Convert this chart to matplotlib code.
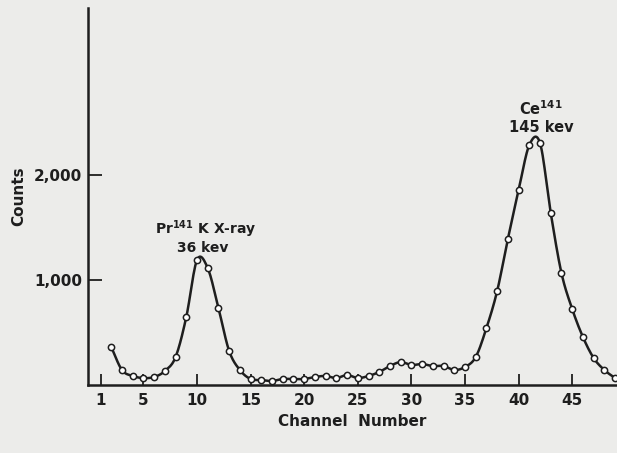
import numpy as np
import matplotlib
matplotlib.use("Agg")
import matplotlib.pyplot as plt

# channel readings
channels = list(range(2, 50))
counts = [354, 134, 77, 57, 67, 124, 258, 641, 1187, 1110,
          727, 316, 134, 48, 38, 29, 48, 48, 48, 67,
          77, 57, 86, 57, 77, 115, 172, 210, 182, 191,
          172, 172, 134, 163, 258, 536, 890, 1388, 1856, 2287,
          2306, 1636, 1062, 718, 450, 249, 134, 57]

xticks = [1, 5, 10, 15, 20, 25, 30, 35, 40, 45]
yticks = [1000, 2000]
ytick_labels = ['1,000', '2,000']

plt.rcParams['font.family'] = 'DejaVu Sans'
plt.rcParams['mathtext.fontset'] = 'custom'
plt.rcParams['mathtext.rm'] = 'DejaVu Sans:bold'
plt.rcParams['mathtext.default'] = 'rm'

bg = '#ececea'
ink = '#1e1e1e'


def smooth(x, y, n=12):
    # catmull-rom curve through the points, only for drawing the line
    x = np.asarray(x, float)
    y = np.asarray(y, float)
    px = np.concatenate([[2 * x[0] - x[1]], x, [2 * x[-1] - x[-2]]])
    py = np.concatenate([[2 * y[0] - y[1]], y, [2 * y[-1] - y[-2]]])
    t = np.linspace(0, 1, n, endpoint=False)
    xs, ys = [], []
    for i in range(1, len(px) - 2):
        for arr, out in ((px, xs), (py, ys)):
            p0, p1, p2, p3 = arr[i - 1], arr[i], arr[i + 1], arr[i + 2]
            out.extend(0.5 * (2 * p1 + (-p0 + p2) * t
                              + (2 * p0 - 5 * p1 + 4 * p2 - p3) * t ** 2
                              + (-p0 + 3 * p1 - 3 * p2 + p3) * t ** 3))
    xs.append(x[-1])
    ys.append(y[-1])
    return np.array(xs), np.array(ys)


fig = plt.figure(figsize=(6.17, 4.53), dpi=100, facecolor=bg)
ax = fig.add_axes([0.1426, 0.150, 0.8574, 0.832])
ax.set_facecolor(bg)

sx, sy = smooth(channels, counts)
ax.plot(sx, sy, color=ink, lw=1.8, zorder=2)
ax.plot(channels, counts, 'o', ms=4.5, mfc='white', mec=ink, mew=1.1, zorder=3)

ax.set_xlim(-0.17, 49.18)
ax.set_ylim(-10, 3598)

ax.spines['top'].set_visible(False)
ax.spines['right'].set_visible(False)
for s in ('left', 'bottom'):
    ax.spines[s].set_color(ink)
    ax.spines[s].set_linewidth(1.8)

ax.set_xticks(xticks)
ax.set_xticklabels([str(v) for v in xticks], fontsize=11, fontweight='bold', color=ink)
ax.set_yticks(yticks)
ax.set_yticklabels(ytick_labels, fontsize=11, fontweight='bold', color=ink)
ax.tick_params(axis='x', direction='in', length=8, width=1.3, color=ink, pad=6)
ax.tick_params(axis='y', direction='in', length=10, width=1.3, color=ink, pad=4)

ax.set_xlabel('Channel  Number', fontsize=11, fontweight='bold', color=ink, labelpad=4)
ax.set_ylabel('Counts', fontsize=11, fontweight='bold', color=ink, labelpad=6)

ax.text(10.8, 1480, r'Pr$^{141}$ K X-ray', ha='center', va='center',
        fontsize=10, fontweight='bold', color=ink)
ax.text(10.5, 1305, '36 kev', ha='center', va='center',
        fontsize=10, fontweight='bold', color=ink)
ax.text(42.1, 2640, r'Ce$^{141}$', ha='center', va='center',
        fontsize=10.5, fontweight='bold', color=ink)
ax.text(42.1, 2460, '145 kev', ha='center', va='center',
        fontsize=10.5, fontweight='bold', color=ink)

fig.savefig('out.png', dpi=100, facecolor=bg)
